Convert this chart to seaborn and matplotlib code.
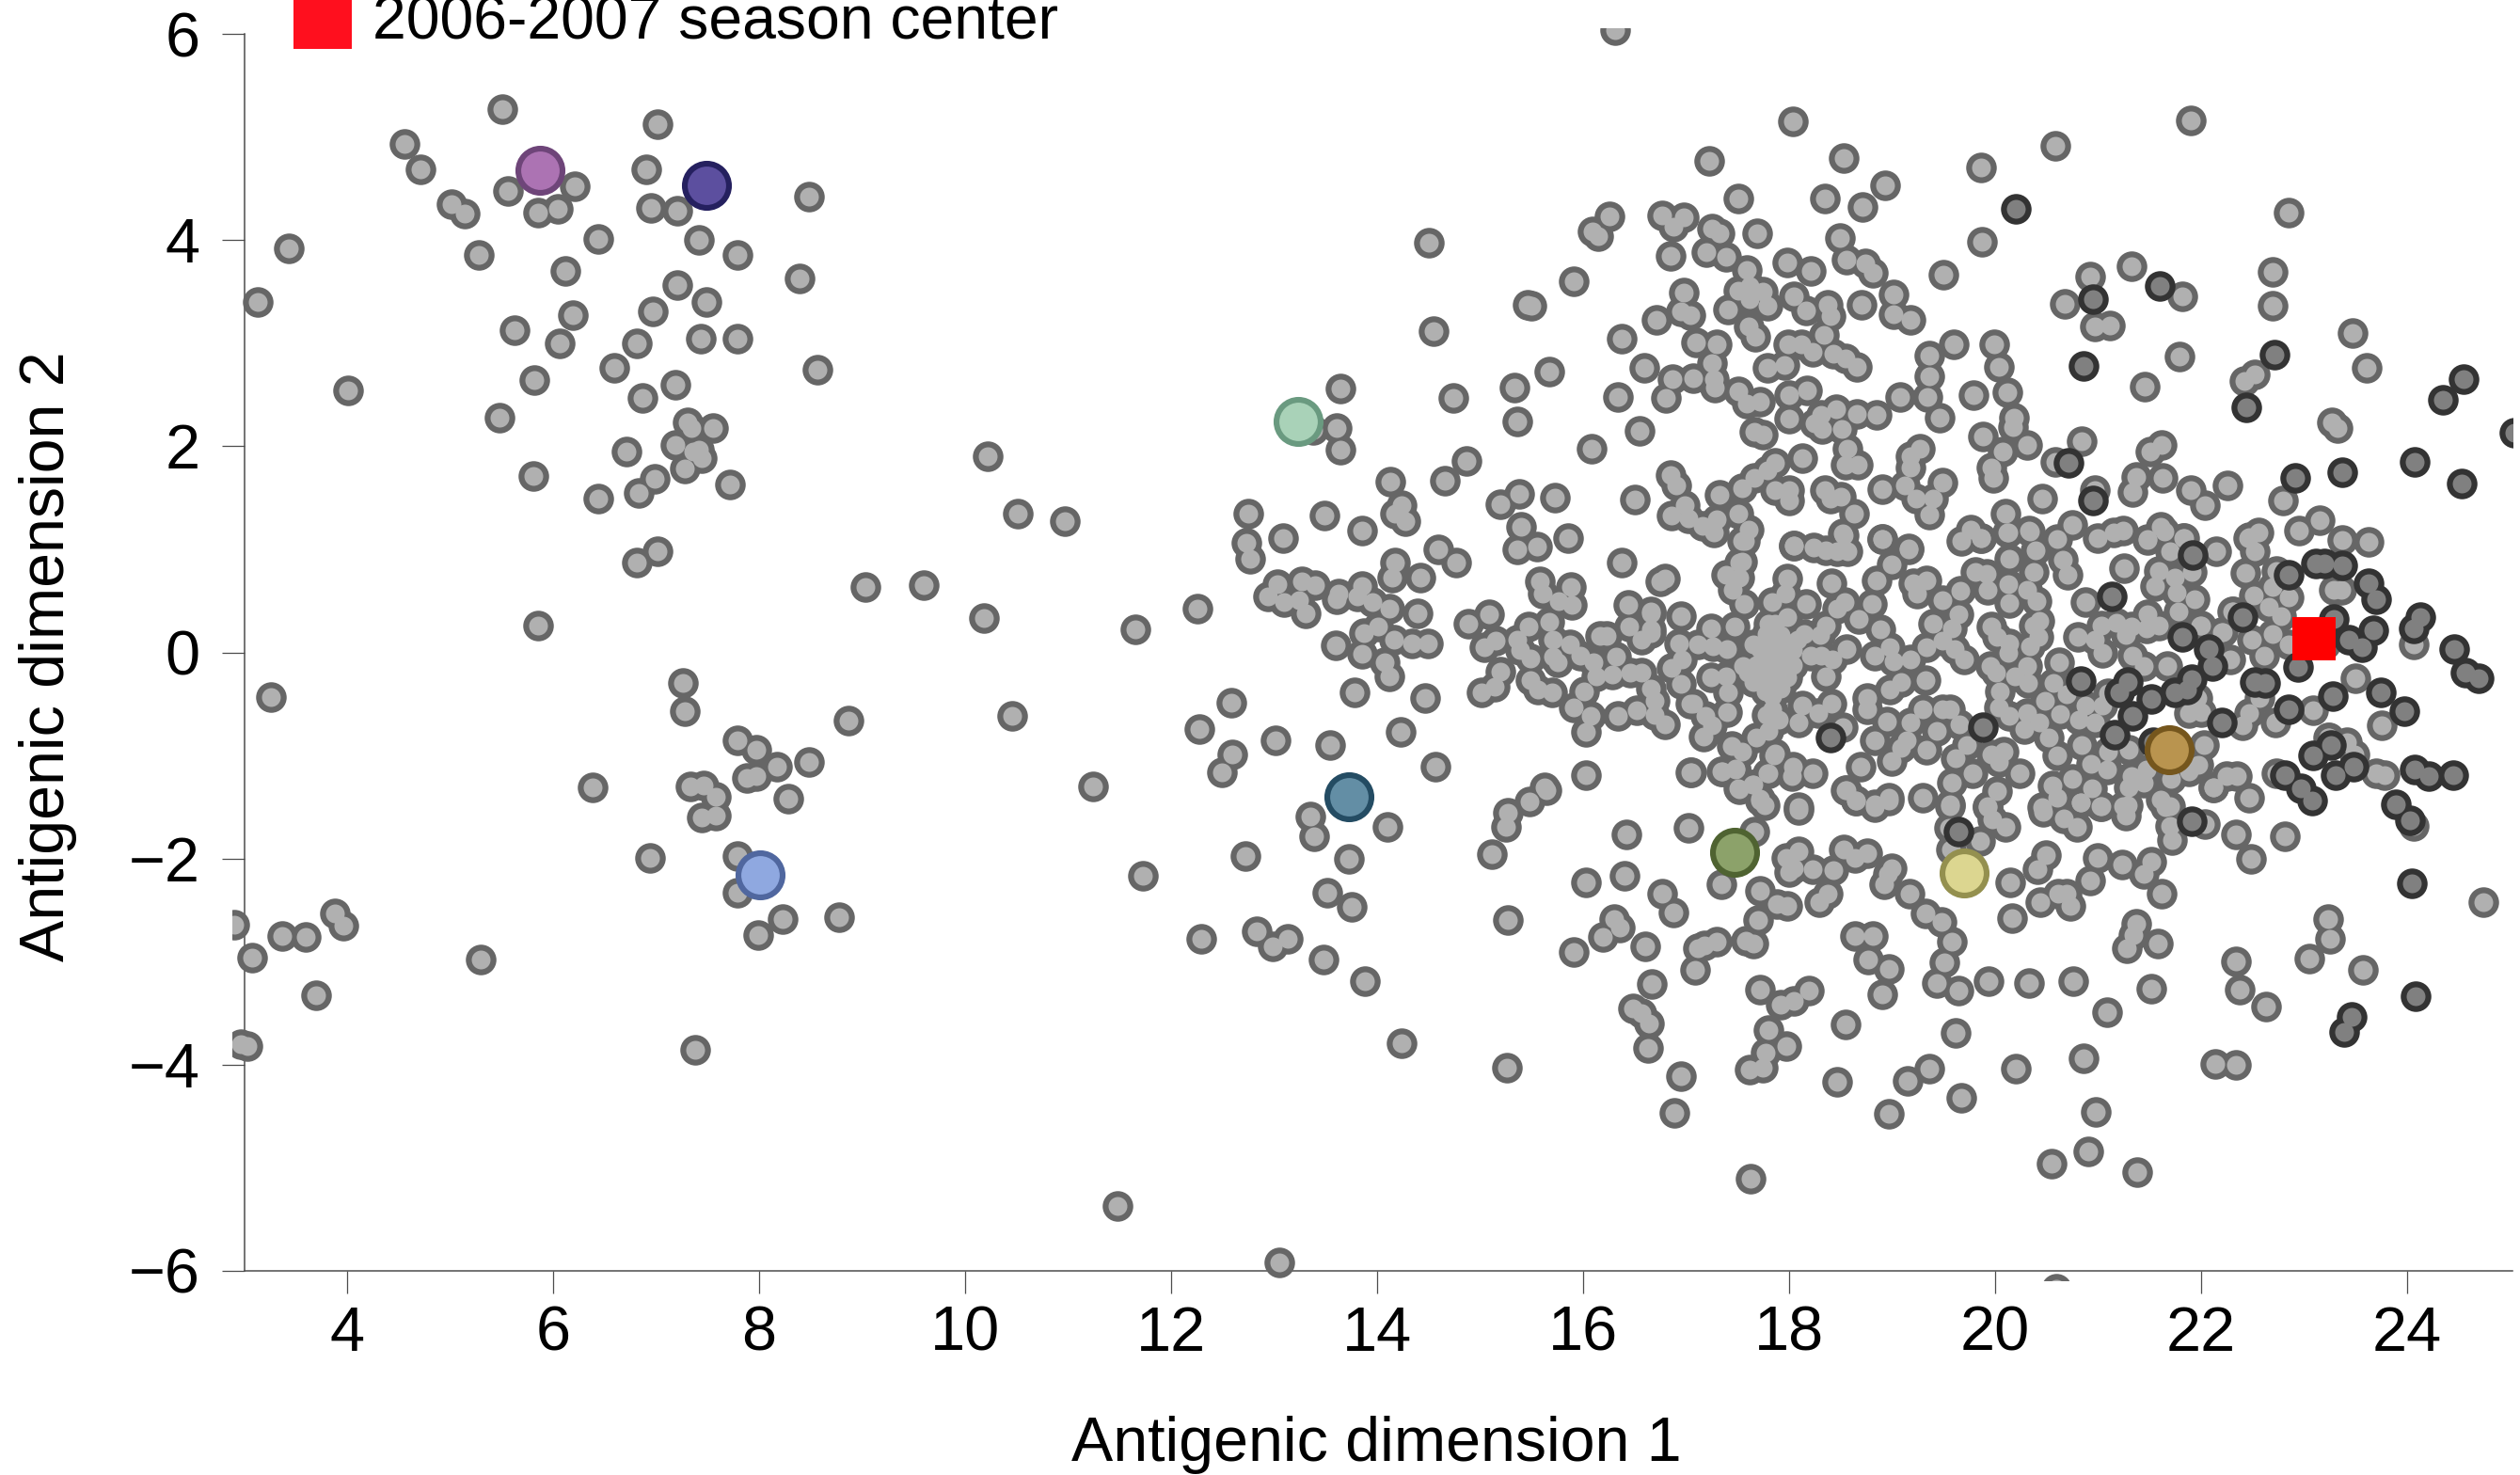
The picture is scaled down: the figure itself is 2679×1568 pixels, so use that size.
import matplotlib
matplotlib.use("Agg")
import matplotlib.pyplot as plt
from matplotlib.patches import Rectangle
import pandas as pd
import seaborn as sns

# values, (dimension 1, dimension 2)
left_strains = [
    (5.51,5.27),(7.01,5.12),(4.56,4.93),(4.71,4.69),(6.90,4.69),(5.56,4.48),(6.21,4.52),(5.01,4.35),(5.14,4.26),
    (5.85,4.27),(6.05,4.30),(6.95,4.31),(7.21,4.28),(8.48,4.42),(3.43,3.92),(6.44,4.01),(7.42,4.00),(5.28,3.86),
    (7.79,3.86),(6.12,3.70),(7.21,3.56),(8.39,3.63),(3.13,3.40),(7.49,3.40),(6.97,3.31),(6.19,3.27),(5.63,3.13),
    (6.06,3.00),(6.81,3.00),(7.43,3.04),(7.79,3.04),(6.59,2.76),(5.82,2.64),(7.19,2.60),(8.57,2.74),(4.01,2.54),
    (6.87,2.47),(5.48,2.28),(7.31,2.23),(7.34,2.18),(7.55,2.18),(7.19,2.01),(6.71,1.95),(7.42,1.97),(7.36,1.95),
    (7.44,1.88),(7.28,1.78),(6.99,1.68),(5.81,1.71),(6.83,1.55),(7.72,1.63),(6.44,1.49),(10.22,1.90),(10.51,1.35),
    (7.01,0.98),(6.81,0.87),(9.03,0.63),(9.60,0.65),(10.18,0.33),(5.85,0.26),(7.26,-0.30),(7.28,-0.57),(3.26,-0.43),
    (8.87,-0.66),(10.46,-0.62),(7.79,-0.85),(7.97,-0.94),(8.17,-1.11),(8.48,-1.06),(7.88,-1.22),(7.97,-1.20),
    (6.38,-1.31),(7.33,-1.30),(7.46,-1.29),(7.58,-1.40),(8.28,-1.42),(7.44,-1.60),(7.58,-1.58),(6.94,-1.99),
    (7.79,-1.98),(7.79,-2.33),(8.23,-2.59),(8.78,-2.57),(7.99,-2.74),(2.90,-2.64),(3.37,-2.75),(3.60,-2.76),
    (3.88,-2.53),(3.96,-2.65),(3.08,-2.96),(5.30,-2.98),(3.70,-3.33),(3.03,-3.82),(7.38,-3.86),(2.97,-3.80),
]
middle_strains = [
    (14.50,3.97),(13.64,2.56),(14.55,3.12),(14.74,2.47),(13.61,2.18),(13.38,2.16),(13.64,1.97),(14.87,1.86),
    (14.66,1.67),(14.13,1.66),(12.75,1.35),(13.49,1.33),(10.97,1.27),(14.24,1.43),(14.17,1.35),(14.27,1.27),
    (13.85,1.18),(13.09,1.11),(12.73,1.06),(12.77,0.91),(14.59,1.00),(14.77,0.87),(14.17,0.87),(14.15,0.73),
    (14.42,0.73),(13.03,0.66),(13.27,0.69),(13.40,0.65),(13.63,0.57),(13.85,0.64),(12.94,0.54),(13.10,0.49),
    (13.24,0.51),(13.31,0.38),(13.61,0.52),(13.81,0.54),(13.95,0.49),(14.12,0.42),(14.39,0.38),(12.26,0.42),
    (11.65,0.22),(14.89,0.28),(15.09,0.37),(14.01,0.25),(13.87,0.19),(14.16,0.12),(14.34,0.09),(14.49,0.09),
    (13.60,0.07),(13.85,-0.01),(14.07,-0.10),(14.12,-0.23),(13.78,-0.39),(14.47,-0.44),(12.58,-0.49),(12.27,-0.74),
    (13.01,-0.85),(13.54,-0.90),(14.23,-0.77),(14.57,-1.11),(12.59,-0.99),(12.49,-1.16),(11.24,-1.30),(13.35,-1.59),
    (13.39,-1.78),(14.10,-1.69),(13.73,-2.00),(12.72,-1.98),(11.73,-2.17),(13.52,-2.33),(13.75,-2.47),(12.29,-2.78),
    (12.83,-2.71),(13.13,-2.78),(12.99,-2.85),(13.48,-2.98),(13.88,-3.19),(14.24,-3.79),(15.26,-4.03),(11.48,-5.37),
    (13.05,-5.92),
]
upper_strains = [
    (16.31,6.04),(17.22,4.77),(17.51,4.40),(18.04,5.15),(16.26,4.23),(16.09,4.08),(16.15,4.04),(16.77,4.24),
    (16.98,4.22),(16.88,4.13),(17.25,4.11),(17.32,4.07),(17.69,4.07),(16.85,3.85),(17.20,3.88),(17.39,3.84),
    (17.98,3.78),(17.59,3.71),(15.91,3.60),(15.46,3.37),(15.50,3.36),(16.98,3.49),(17.51,3.51),(17.62,3.55),
    (17.74,3.50),(17.41,3.33),(17.62,3.43),(17.79,3.36),(16.95,3.31),(17.04,3.27),(16.71,3.23),(17.61,3.16),
    (17.67,3.06),(16.37,3.04),(17.10,3.01),(17.30,2.99),(16.59,2.76),(17.25,2.81),(15.67,2.72),(16.87,2.65),
    (17.07,2.66),(17.27,2.65),(17.28,2.57),(17.79,2.76),(17.95,2.79),(15.33,2.57),(16.34,2.48),(16.80,2.47),
    (17.51,2.53),(17.59,2.41),(17.72,2.43),(15.36,2.24),(16.55,2.15),(17.66,2.14),(17.74,2.11),(16.08,1.98),
    (16.85,1.72),(16.90,1.62),(17.86,1.84),(17.79,1.77),(17.66,1.69),(17.54,1.59),(17.32,1.53),(17.86,1.57),
    (15.38,1.54),(15.20,1.44),(15.73,1.50),(16.50,1.48),(16.99,1.43),(16.86,1.33),(17.02,1.30),(17.16,1.23),
    (17.30,1.29),(17.27,1.16),(17.51,1.35),(17.61,1.19),(17.54,1.08),(15.40,1.22),(15.85,1.11),(15.55,1.03),
    (16.37,0.87),(17.54,0.88),(18.53,4.80),(18.35,4.40),(18.71,4.32),(18.93,4.53),(19.86,4.70),(20.58,4.91),
    (21.90,5.16),(22.85,4.27),(19.87,3.98),(18.49,4.02),(18.56,3.81),(18.74,3.77),(18.81,3.68),(18.21,3.70),
    (19.50,3.66),(20.92,3.65),(21.32,3.75),(22.69,3.69),(22.69,3.36),(21.82,3.45),(20.68,3.38),(20.97,3.16),
    (21.11,3.17),(19.01,3.47),(19.01,3.28),(19.18,3.23),(18.70,3.37),(18.37,3.37),(18.40,3.26),(18.05,3.45),
    (18.16,3.32),(18.34,3.08),(19.60,2.99),(19.99,2.99),(19.36,2.88),(20.04,2.77),(19.36,2.68),(21.79,2.87),
    (21.45,2.58),(23.47,3.10),(23.61,2.76),(22.52,2.70),(22.42,2.63),(18.12,2.99),(18.23,2.92),(18.43,2.90),
    (18.55,2.85),(18.66,2.77),(17.99,2.99),(18.17,2.54),(18.00,2.50),(19.08,2.48),(19.34,2.48),(19.46,2.28),
    (19.79,2.50),(20.12,2.52),(18.46,2.36),(18.66,2.31),(18.85,2.30),(18.31,2.30),(18.25,2.22),(18.32,2.17),
    (18.51,2.17),(18.00,2.27),(20.18,2.28),(20.17,2.19),(19.88,2.09),(20.31,2.01),(20.07,1.95),(20.84,2.05),
    (20.58,1.85),(21.62,2.01),(21.51,1.95),(18.57,1.98),(18.13,1.88),(19.27,1.98),(19.18,1.90),(19.18,1.79),
    (18.55,1.82),(18.67,1.82),(19.96,1.79),(19.98,1.69),(21.37,1.70),(21.63,1.69),(21.33,1.56),(22.26,1.62),
    (21.90,1.57),(22.04,1.43),(22.79,1.47),(23.32,2.18),(23.27,2.23),(19.49,1.65),(19.12,1.62),(18.90,1.58),
    (18.35,1.57),(18.50,1.51),(18.40,1.49),(19.23,1.49),(19.40,1.49),(19.36,1.34),(18.63,1.35),(18.00,1.57),
    (18.00,1.47),(20.97,1.57),(20.46,1.49),(20.10,1.35),(20.75,1.24),(20.33,1.18),(20.12,1.16),(19.76,1.19),
    (19.67,1.08),(19.86,1.11),(18.52,1.15),(18.90,1.10),(19.16,1.01),(18.05,1.04),(23.15,1.28),(23.37,1.09),
    (22.95,1.18),(21.61,1.22),(22.56,1.16),(22.47,1.12),(21.48,1.09),(21.84,1.11),
]
core_left_strains = [
    (15.04,0.05),(15.15,0.11),(15.36,0.12),(15.47,0.25),(15.39,0.02),(15.49,-0.06),(15.58,0.69),(15.61,0.57),
    (15.88,0.63),(15.76,0.50),(15.89,0.46),(15.67,0.30),(15.71,0.12),(15.87,0.08),(15.71,-0.04),(15.75,-0.10),
    (15.97,-0.03),(16.10,-0.10),(16.13,-0.23),(16.16,0.16),(16.23,0.16),(16.32,-0.04),(16.28,-0.21),(16.46,-0.20),
    (16.57,-0.20),(16.44,0.46),(16.66,0.38),(16.45,0.25),(16.66,0.22),(16.57,0.12),(16.79,0.72),(16.75,0.69),
    (16.95,0.35),(16.93,0.09),(16.96,-0.07),(16.86,-0.15),(16.95,-0.31),(17.04,-0.50),(15.20,-0.19),(15.14,-0.33),
    (15.01,-0.39),(15.49,-0.27),(15.56,-0.36),(15.70,-0.39),(16.01,-0.38),(15.91,-0.53),(16.07,-0.62),(16.03,-0.77),
    (16.34,-0.62),(16.52,-0.56),(16.66,-0.35),(16.69,-0.47),(16.69,-0.61),(16.79,-0.70),(16.03,-1.19),(15.63,-1.31),
    (16.66,0.40),(16.66,0.19),(17.07,-0.50),(17.19,-0.62),(17.25,-0.71),(17.17,-0.82),(17.24,0.23),(17.11,0.08),
    (17.26,0.06),(17.40,0.03),(17.47,0.25),(17.52,0.87),(17.39,0.75),(17.52,0.73),(17.45,0.61),(17.56,0.47),
    (17.57,1.08),(17.24,-0.24),(17.39,-0.23),(17.41,-0.39),(17.40,-0.58),(17.55,-0.13),(17.65,0.08),(17.80,0.28),
    (17.98,0.34),(17.84,0.49),(17.98,0.72),(17.96,0.57),(18.16,0.47),(18.15,0.18),(18.36,0.26),(18.30,0.17),
    (17.92,0.17),(17.83,0.08),(18.04,0.02),(17.89,-0.04),(17.78,-0.13),(18.04,-0.12),(17.92,-0.16),(17.71,-0.23),
    (17.65,-0.29),(17.77,-0.38),(17.92,-0.35),(18.21,-0.03),(18.31,-0.03),(18.42,-0.07),(18.36,-0.23),(18.56,0.03),
    (18.13,-0.52),(18.41,-0.50),(18.28,-0.59),(17.84,-0.55),(17.78,-0.61),(17.90,-0.65),(18.09,-0.68),(17.80,-0.76),
    (17.68,-0.83),(17.44,-0.91),(17.54,-0.96),(17.85,-1.00),(17.79,-1.17),(18.04,-1.11),(18.03,-1.20),(18.23,-1.17),
    (17.34,-1.15),(17.48,-1.13),(17.04,-1.16),(17.51,-1.32),(17.64,-1.28),(17.72,-1.44),(18.09,-1.50),(18.05,1.04),
    (18.24,1.02),(18.36,0.99),(18.47,0.98),(18.57,0.98),(18.53,1.14),(18.41,0.67),(18.54,0.49),(18.47,0.42),
    (18.68,0.32),(18.80,0.47),(18.85,0.70),(19.00,0.85),(18.90,1.10),(19.16,1.00),(18.89,0.22),(18.98,0.05),
    (18.83,-0.03),(19.01,-0.09),(19.18,-0.07),(19.33,0.05),(19.21,0.67),(19.33,0.70),(19.24,0.57),(19.49,0.51),
    (19.66,0.60),(19.81,0.78),(19.40,0.28),(19.64,0.37),(19.58,0.23),(19.49,0.11),(19.61,0.03),(19.70,-0.07),
    (19.09,-0.29),(18.98,-0.36),(19.32,-0.27),(18.76,-0.44),(18.76,-0.55),(18.95,-0.67),(19.30,-0.55),(19.49,-0.55),
    (19.56,-0.55),(19.65,-0.70),(19.18,-0.68),(19.43,-0.76),(19.33,-0.94),(19.14,-0.85),(19.09,-0.93),(19.00,-1.05),
    (18.83,-0.85),(18.69,-1.11),(18.56,-1.34),(18.65,-1.44),(18.83,-1.47),(18.97,-1.41),(19.30,-1.41),(19.56,-1.47),
    (19.58,-1.26),(19.78,-1.17),(19.62,-1.03),(19.73,-0.90),(18.52,-0.73),(15.36,1.00),
    # the solid blob around (17.9, 0)
    (17.72,0.03),(17.78,0.18),(17.86,-0.10),(17.97,0.10),(17.97,-0.04),(17.75,-0.07),(17.84,-0.24),(17.98,-0.24),
    (17.68,-0.12),(17.86,0.28),(18.08,0.12),(17.60,-0.20),(17.84,-0.42),
]
core_right_strains = [
    (19.86,1.11),(20.13,1.16),(20.34,1.17),(20.60,1.10),(20.14,0.91),(20.39,0.99),(20.66,0.90),(20.70,0.75),
    (20.37,0.78),(20.13,0.66),(20.31,0.61),(19.92,0.76),(19.93,0.61),(20.40,0.50),(20.14,0.48),(21.25,0.82),
    (21.00,1.11),(21.15,1.16),(21.24,1.18),(21.48,1.10),(21.64,1.17),(21.70,0.98),(21.83,1.11),(22.15,0.98),
    (21.59,0.79),(21.55,0.64),(21.74,0.73),(21.76,0.58),(21.94,0.52),(21.91,0.78),(21.78,0.40),(22.46,1.11),
    (22.52,0.98),(22.43,0.77),(22.51,0.55),(22.69,0.63),(22.73,0.79),(22.85,0.53),(23.29,0.61),(23.36,0.61),
    (22.66,0.44),(22.78,0.35),(22.69,0.18),(22.49,0.12),(22.61,-0.03),(22.85,0.08),(22.21,0.20),(22.00,0.26),
    (22.31,0.40),(19.96,0.25),(20.02,0.15),(20.14,0.09),(20.13,0.00),(20.43,0.31),(20.37,0.26),(20.42,0.15),
    (20.34,0.06),(20.88,0.49),(20.80,0.15),(21.03,0.26),(21.18,0.29),(21.32,0.25),(21.48,0.37),(21.47,0.23),
    (21.59,0.26),(21.27,0.17),(20.97,0.12),(21.04,0.00),(21.33,-0.03),(21.44,-0.13),(21.67,-0.13),(20.62,-0.10),
    (19.95,-0.13),(20.01,-0.20),(20.31,-0.13),(20.19,-0.23),(20.32,-0.30),(20.57,-0.30),(20.69,-0.41),(20.05,-0.38),
    (20.48,-0.47),(20.88,-0.52),(21.04,-0.52),(20.63,-0.60),(20.31,-0.59),(20.14,-0.62),(20.04,-0.53),(20.43,-0.68),
    (20.28,-0.74),(20.81,-0.65),(20.97,-0.68),(22.28,-0.07),(21.96,-0.44),(21.88,-0.59),(22.00,-0.58),(22.57,-0.44),
    (22.47,-0.59),(22.40,-0.71),(22.72,-0.68),(23.09,-0.56),(20.52,-0.83),(20.60,-1.00),(20.84,-0.90),(20.93,-1.08),
    (21.09,-1.14),(21.10,-0.96),(21.30,-0.94),(21.32,-1.20),(21.47,-1.14),(21.30,-1.31),(21.44,-1.26),(21.71,-1.23),
    (21.88,-1.15),(21.97,-1.09),(22.03,-0.90),(19.96,-0.99),(20.08,-0.96),(20.04,-1.06),(20.24,-1.17),(20.02,-1.35),
    (19.93,-1.49),(20.56,-1.29),(20.60,-1.41),(20.75,-1.23),(20.94,-1.32),(20.83,-1.46),(21.03,-1.49),(21.24,-1.49),
    (21.61,-1.43),(21.70,-1.49),(22.12,-1.31),(22.25,-1.20),(22.35,-1.20),(22.47,-1.41),(20.46,-1.50),(23.63,1.07),
    (24.06,0.08),(23.50,-0.25),(23.75,-0.71),(23.70,-1.17),(23.78,-1.19),(23.23,-0.83),(23.42,-0.87),(23.49,-0.99),
    (22.73,-1.17),(22.30,0.40),(21.99,0.26),(22.20,0.20),(24.06,-1.68),(23.21,0.08),(21.10,-0.40),
]
lower_strains = [
    (17.63,-5.11),(16.89,-4.47),(16.95,-4.11),(16.63,-3.84),(16.64,-3.60),(16.57,-3.50),(16.48,-3.45),(16.67,-3.22),
    (17.09,-3.08),(17.11,-2.87),(17.18,-2.84),(17.30,-2.81),(17.58,-2.80),(17.65,-2.82),(17.70,-2.60),(17.72,-3.27),
    (17.92,-3.42),(17.80,-3.66),(17.77,-3.88),(17.62,-4.05),(17.74,-4.03),(17.97,-3.82),(16.60,-2.85),(15.91,-2.91),
    (16.19,-2.76),(16.30,-2.59),(16.36,-2.67),(15.27,-2.60),(16.03,-2.23),(16.40,-2.17),(16.77,-2.34),(16.88,-2.52),
    (17.34,-2.25),(17.72,-2.31),(17.88,-2.44),(17.97,-1.99),(18.00,-2.13),(16.42,-1.77),(17.02,-1.70),(17.66,-1.74),
    (15.11,-1.96),(15.25,-1.69),(15.27,-1.56),(15.48,-1.45),(15.64,-1.34),(17.05,-1.16),(17.35,-1.15),(17.48,-1.14),
    (17.52,-1.33),(17.65,-1.28),(17.72,-1.42),(17.76,-1.48),(17.80,-1.17),(17.86,-0.98),(23.24,-0.83),(24.74,-2.42),
    (23.23,-2.59),(23.25,-2.78),(23.05,-2.97),(23.57,-3.08),(22.34,-3.00),(22.37,-3.27),(22.63,-3.44),(22.14,-3.99),
    (22.34,-4.00),(21.58,-2.82),(21.37,-2.63),(21.34,-2.74),(21.28,-2.87),(21.52,-3.26),(21.09,-3.49),(20.86,-3.94),
    (20.98,-4.46),(20.90,-4.84),(20.55,-4.96),(21.38,-5.04),(20.76,-3.19),(20.33,-3.21),(19.94,-3.19),(20.20,-4.04),
    (19.67,-4.32),(19.36,-4.04),(19.15,-4.16),(18.97,-4.48),(18.47,-4.17),(19.62,-3.69),(18.55,-3.61),(18.90,-3.32),
    (18.97,-3.07),(18.77,-2.98),(18.64,-2.75),(18.81,-2.75),(19.58,-2.81),(19.48,-2.61),(19.32,-2.53),(19.17,-2.34),
    (19.51,-3.01),(19.43,-3.21),(19.64,-3.28),(18.19,-3.28),(18.05,-3.38),(20.16,-2.58),(20.44,-2.42),(20.61,-2.34),
    (20.69,-2.34),(20.73,-2.46),(20.15,-2.23),(20.41,-2.10),(20.49,-1.97),(20.92,-2.21),(21.00,-1.99),(21.23,-2.06),
    (21.52,-2.03),(21.44,-2.15),(21.62,-2.34),(21.72,-1.82),(21.70,-1.68),(21.65,-1.50),(21.27,-1.58),(21.29,-1.48),
    (21.02,-1.49),(20.83,-1.46),(20.79,-1.69),(20.67,-1.61),(20.47,-1.55),(20.10,-1.69),(19.97,-1.62),(19.93,-1.50),
    (19.85,-1.83),(19.56,-1.49),(19.57,-1.91),(19.55,-1.70),(18.97,-1.44),(18.83,-1.50),(18.65,-1.44),(18.55,-1.34),
    (18.09,-1.53),(22.04,-1.67),(22.34,-1.77),(22.48,-2.00),(22.81,-1.78),(18.76,-1.95),(18.64,-1.99),(18.53,-1.91),
    (18.43,-2.11),(18.23,-2.10),(18.09,-1.93),(18.05,-2.09),(18.37,-2.34),(18.29,-2.42),(17.98,-2.46),(19.00,-2.09),
    (18.96,-2.15),(18.92,-2.25),(20.59,-6.17),(22.12,-1.31),
]
season_strains = [
    (20.20,4.30),(21.60,3.55),(20.95,3.43),(20.86,2.78),(22.71,2.89),(22.44,2.38),(24.55,2.65),(24.35,2.45),
    (25.04,2.13),(20.71,1.84),(20.95,1.47),(22.91,1.69),(23.37,1.75),(24.07,1.85),(24.53,1.64),(21.92,0.94),
    (22.85,0.75),(23.11,0.86),(23.20,0.86),(23.37,0.84),(23.63,0.67),(23.70,0.52),(21.13,0.54),(22.40,0.34),
    (23.29,0.32),(23.43,0.12),(23.56,0.05),(23.67,0.21),(24.13,0.34),(24.06,0.23),(24.46,0.03),(24.57,-0.20),
    (24.69,-0.25),(22.94,-0.14),(23.28,-0.42),(23.74,-0.39),(23.97,-0.57),(22.85,-0.55),(22.20,-0.68),(22.52,-0.29),
    (22.62,-0.30),(21.82,0.15),(22.07,0.03),(22.11,-0.13),(21.91,-0.26),(21.86,-0.36),(21.74,-0.39),(23.26,-0.90),
    (23.09,-1.00),(23.31,-1.19),(23.48,-1.11),(22.81,-1.19),(22.97,-1.32),(23.08,-1.44),(24.07,-1.14),(24.21,-1.20),
    (24.45,-1.19),(23.89,-1.47),(24.03,-1.63),(20.83,-0.28),(21.29,-0.29),(21.21,-0.39),(21.52,-0.45),(21.33,-0.62),
    (21.16,-0.80),(21.53,-0.87),(19.88,-0.73),(18.40,-0.83),(21.91,-1.64),(19.64,-1.74),(24.05,-2.24),(23.46,-3.54),
    (23.39,-3.68),(24.08,-3.34),
]

# circled reference strains, painted in this order
reference_x = [5.87, 7.49, 8.01, 13.23, 13.73, 17.47, 19.70, 21.69]
reference_y = [4.68, 4.53, -2.16, 2.24, -1.40, -1.94, -2.14, -0.94]
reference_fill = ["#ac73b3", "#5c4f9f", "#8fa8e0", "#a9d2b8", "#638ea5", "#8ca26a", "#dcd690", "#b9944f"]
reference_edge = ["#6e4579", "#25205f", "#50679f", "#6a9a80", "#244c63", "#4f6331", "#94904f", "#75561d"]

center_x = [23.10]
center_y = [0.13]

x_ticks = [4, 6, 8, 10, 12, 14, 16, 18, 20, 22, 24]
y_ticks = [-6, -4, -2, 0, 2, 4, 6]

sns.set_style("ticks", {"text.color": "black", "axes.labelcolor": "black",
                        "xtick.color": "black", "ytick.color": "black"})
plt.rcParams["font.family"] = ["Liberation Sans", "DejaVu Sans"]

W, H = 2679, 1568
fig = plt.figure(figsize=(W / 100, H / 100), dpi=100, facecolor="white")
# the axes reach a little past the 3 and -6 axis lines, points are cut only there
ax = fig.add_axes([247 / W, (H - 1361) / H, (2671 - 247) / W, (1361 - 30) / H])
ax.patch.set_alpha(0)

gray = pd.DataFrame(left_strains + middle_strains + upper_strains + core_left_strains
                    + core_right_strains + lower_strains, columns=["dim1", "dim2"])
dark = pd.DataFrame(season_strains, columns=["dim1", "dim2"])

# outlines first then fills, so overlapping strains melt together
for df, edge, fill in [(gray, "#666666", "#b0b0b0"), (dark, "#333333", "#808080")]:
    sns.scatterplot(data=df, x="dim1", y="dim2", s=548, color=edge, linewidth=0, ax=ax, zorder=3, legend=False)
    sns.scatterplot(data=df, x="dim1", y="dim2", s=207, color=fill, linewidth=0, ax=ax, zorder=3, legend=False)

for rx, ry, fill, edge in zip(reference_x, reference_y, reference_fill, reference_edge):
    sns.scatterplot(x=[rx], y=[ry], s=1143, color=fill, edgecolor=edge, linewidth=4.4, ax=ax, zorder=4, legend=False)

sns.scatterplot(x=center_x, y=center_y, s=1050, marker="s", color="#ff0000", linewidth=0, ax=ax, zorder=5, legend=False)

ax.set_xlim(3 + (247 - 259.5) / 109.5, 3 + (2671 - 259.5) / 109.5)
ax.set_ylim((693.5 - 1361) / 109.58, (693.5 - 30) / 109.58)

sns.despine(ax=ax)
ax.spines["left"].set_position(("data", 3))
ax.spines["bottom"].set_position(("data", -6))
ax.spines["left"].set_bounds(-6, 6)
ax.spines["bottom"].set_bounds(3, 3 + (2671 - 259.5) / 109.5)
for side in ["left", "bottom"]:
    ax.spines[side].set_color("#4d4d4d")
    ax.spines[side].set_linewidth(1.1)

ax.set_xticks(x_ticks)
ax.set_yticks(y_ticks)
ax.tick_params(axis="x", length=17.5, width=0.9, color="#4d4d4d", labelsize=48, pad=9)
ax.tick_params(axis="y", length=17.5, width=0.9, color="#4d4d4d", labelsize=48, pad=16)

ax.set_xlabel("Antigenic dimension 1", fontsize=47.7)
ax.set_ylabel("Antigenic dimension 2", fontsize=47.7)
ax.xaxis.set_label_coords(0.5017, -0.108)
ax.yaxis.set_label_coords(-0.068, 0.4985)

fig.add_artist(Rectangle((312 / W, 1 - 52 / H), 62 / W, 60 / H, transform=fig.transFigure,
                         facecolor="#ff0f1e", edgecolor="none"))
fig.text(396 / W, 1 - 42 / H, "2006-2007 season center", fontsize=46.3, va="baseline", ha="left", color="black")

fig.savefig("out.png", dpi=100)
